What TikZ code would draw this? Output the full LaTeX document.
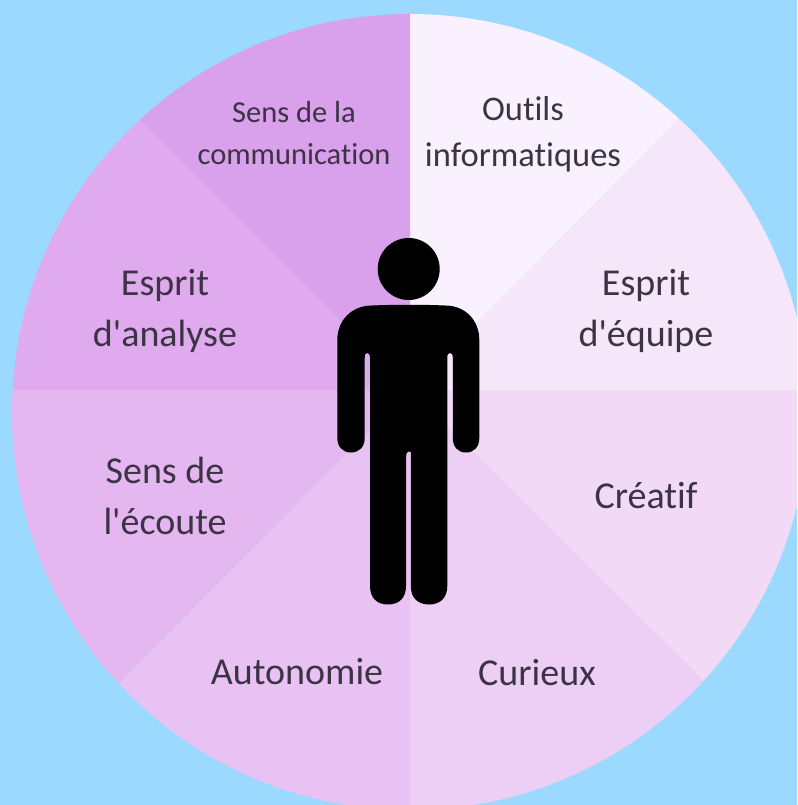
\documentclass[tikz,border=0pt]{standalone}
\usepackage{fontspec}
\setmainfont{Carlito}[Ligatures={TeXOff,CommonOff}]
\definecolor{bgblue}{HTML}{9BD9FF}
\definecolor{inkc}{HTML}{3C3344}
\definecolor{sa}{HTML}{F9F1FD}
\definecolor{sb}{HTML}{F6E6FA}
\definecolor{sc}{HTML}{F2DAF7}
\definecolor{sd}{HTML}{EDCEF5}
\definecolor{se}{HTML}{E9C2F4}
\definecolor{sf}{HTML}{E4B7F1}
\definecolor{sg}{HTML}{DFABEE}
\definecolor{sh}{HTML}{D9A0EB}
\tikzset{
  lbl/.style={text=inkc,align=center,inner sep=0pt,font=\fontsize{38}{51}\selectfont},
  lblinfo/.style={text=inkc,align=center,inner sep=0pt,font=\fontsize{34.5}{46}\selectfont},
  lblsmall/.style={text=inkc,align=center,inner sep=0pt,font=\fontsize{30.5}{42}\selectfont},
}
\begin{document}
\begin{tikzpicture}[x=1pt,y=-1pt]
\useasboundingbox (0,0) rectangle (797,805);
\fill[bgblue] (0,0) rectangle (797,805);
\begin{scope}
\clip (0,0) rectangle (797,805);
\clip (410,412) circle [radius=398pt];
\fill[sa] (410,390) -- (410,0) -- (800,0) -- (678,120) -- cycle;
\fill[sb] (410,390) -- (678,120) -- (830,0) -- (830,390) -- cycle;
\fill[sc] (410,390) -- (830,390) -- (830,805) -- (703,680) -- cycle;
\fill[sd] (410,390) -- (703,680) -- (830,867) -- (410,830) -- cycle;
\fill[se] (410,390) -- (410,830) -- (0,830) -- (120,682) -- cycle;
\fill[sf] (410,390) -- (120,682) -- (0,830) -- (0,390) -- cycle;
\fill[sg] (410,390) -- (0,390) -- (0,0) -- (140,120) -- cycle;
\fill[sh] (410,390) -- (140,120) -- (0,0) -- (410,0) -- cycle;
\end{scope}
% figure
\fill[black] (408.7,269) circle [radius=31pt];
\fill[black] (372,305.5) .. controls (395,304.5) and (422,304.5) .. (445,305.5)
  .. controls (465,305.5) and (479.3,320) .. (479.3,340)
  -- (479.3,438) .. controls (479.3,447) and (474,452.5) .. (466,452.5)
  .. controls (458,452.5) and (452.8,447) .. (452.8,438)
  -- (452.8,358) .. controls (452.8,354) and (451.5,353) .. (450,353)
  .. controls (448.5,353) and (447.3,354) .. (447.3,358)
  -- (447.3,586) .. controls (447.3,598) and (440,604.5) .. (429,604.5)
  .. controls (418,604.5) and (410.8,598) .. (410.8,586)
  -- (410.8,452) -- (408,451.5) .. controls (406.5,452) and (406,455) .. (406,458)
  -- (406,586) .. controls (406,598) and (399,604.5) .. (388,604.5)
  .. controls (377,604.5) and (370,598) .. (370,586)
  -- (370,358) .. controls (370,354) and (368.5,353) .. (367.3,353)
  .. controls (365.5,353) and (364.7,354) .. (364.7,358)
  -- (364.7,438) .. controls (364.7,447) and (359,452.5) .. (351,452.5)
  .. controls (343,452.5) and (337.3,447) .. (337.3,438)
  -- (337.3,340) .. controls (337.3,320) and (352,305.5) .. (372,305.5) -- cycle;
% labels
\node[lblsmall] (comm) at (294,133) {Sens de la\\communication};
\node[lblinfo] (outils) at (523,134) {Outils\\informatiques};
\node[lbl] (equipe) at (646,311) {Esprit\\d'équipe};
\node[lbl] (creatif) at (646,496) {Créatif};
\node[lbl] (curieux) at (537,673) {Curieux};
\node[lbl] (auto) at (297,672) {Autonomie};
\node[lbl] (ecoute) at (165,496) {Sens de\\l'écoute};
\node[lbl] (analyse) at (165,311) {Esprit\\d'analyse};
\end{tikzpicture}
\end{document}
